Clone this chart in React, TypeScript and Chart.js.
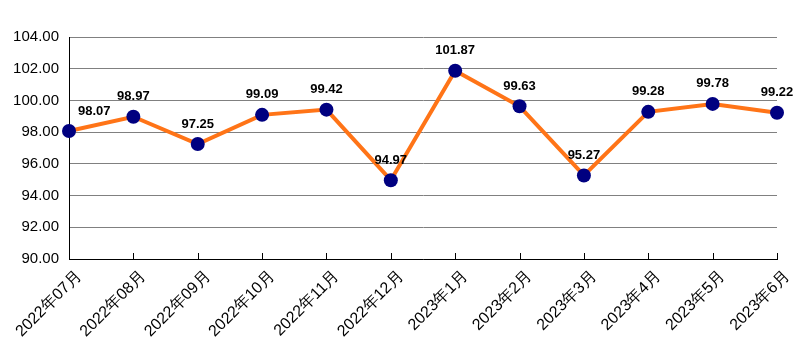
import React, { useEffect, useRef } from "react";
import { Chart, registerables } from "chart.js";

Chart.register(...registerables);

const categories = [
  "2022年07月", "2022年08月", "2022年09月", "2022年10月", "2022年11月", "2022年12月",
  "2023年1月", "2023年2月", "2023年3月", "2023年4月", "2023年5月", "2023年6月",
];
const values = [98.07, 98.97, 97.25, 99.09, 99.42, 94.97, 101.87, 99.63, 95.27, 99.28, 99.78, 99.22];
const yMin = 90;
const yMax = 104;
const yStep = 2;

const FONT = "'Liberation Sans', Arial, sans-serif";

const labelPlugin = {
  id: "valueLabels",
  afterDatasetsDraw(chart: any) {
    const ctx = chart.ctx;
    const meta = chart.getDatasetMeta(0);
    const area = chart.chartArea;
    ctx.save();
    ctx.font = `bold 13px ${FONT}`;
    ctx.fillStyle = "#000";
    ctx.textAlign = "center";
    ctx.textBaseline = "middle";
    meta.data.forEach((pt: any, i: number) => {
      const txt = values[i].toFixed(2);
      const w = ctx.measureText(txt).width;
      let x = pt.x;
      if (x - w / 2 < area.left + 9) x = area.left + 9 + w / 2;
      ctx.fillText(txt, x, pt.y - 20);
    });
    ctx.restore();
  },
};

const tickPlugin = {
  id: "innerTicks",
  afterDraw(chart: any) {
    const ctx = chart.ctx;
    const xs = chart.scales.x;
    const area = chart.chartArea;
    ctx.save();
    ctx.strokeStyle = "#000";
    ctx.lineWidth = 1;
    ctx.beginPath();
    categories.forEach((_, i) => {
      const x = Math.round(xs.getPixelForValue(i)) + 0.5;
      ctx.moveTo(x, area.bottom);
      ctx.lineTo(x, area.bottom - 6);
    });
    ctx.stroke();
    ctx.restore();
  },
};

export default function App() {
  const ref = useRef<HTMLCanvasElement>(null);
  useEffect(() => {
    document.body.style.margin = "0";
    const chart = new Chart(ref.current as HTMLCanvasElement, {
      type: "line",
      data: {
        labels: categories,
        datasets: [
          {
            data: values,
            borderColor: "#FF7417",
            borderWidth: 4,
            pointBackgroundColor: "#000080",
            pointBorderColor: "#000080",
            pointRadius: 7,
            pointBorderWidth: 0,
            tension: 0,
          },
        ],
      },
      options: {
        animation: false,
        responsive: true,
        maintainAspectRatio: false,
        layout: { padding: { top: 37, right: 24, left: 0, bottom: 0 } },
        plugins: { legend: { display: false }, tooltip: { enabled: false } },
        scales: {
          x: {
            offset: false,
            grid: { display: false },
            border: { color: "#000", width: 1 },
            ticks: {
              color: "#000",
              font: { family: FONT, size: 16 },
              minRotation: 45,
              maxRotation: 45,
              padding: 0,
              labelOffset: 10,
              autoSkip: false,
            },
            afterFit(scale: any) {
              scale.height = 92;
            },
          },
          y: {
            min: yMin,
            max: yMax,
            grid: { color: "#808080", drawTicks: false },
            border: { color: "#000", width: 1 },
            ticks: {
              stepSize: yStep,
              color: "#000",
              font: { family: FONT, size: 15 },
              padding: 10,
              callback: (v: any) => Number(v).toFixed(2),
            },
            afterFit(scale: any) {
              scale.width = 69;
            },
          },
        },
      },
      plugins: [labelPlugin, tickPlugin],
    });
    return () => chart.destroy();
  }, []);
  return (
    <div style={{ width: 801, height: 351, position: "relative" }}>
      <canvas ref={ref} />
    </div>
  );
}
